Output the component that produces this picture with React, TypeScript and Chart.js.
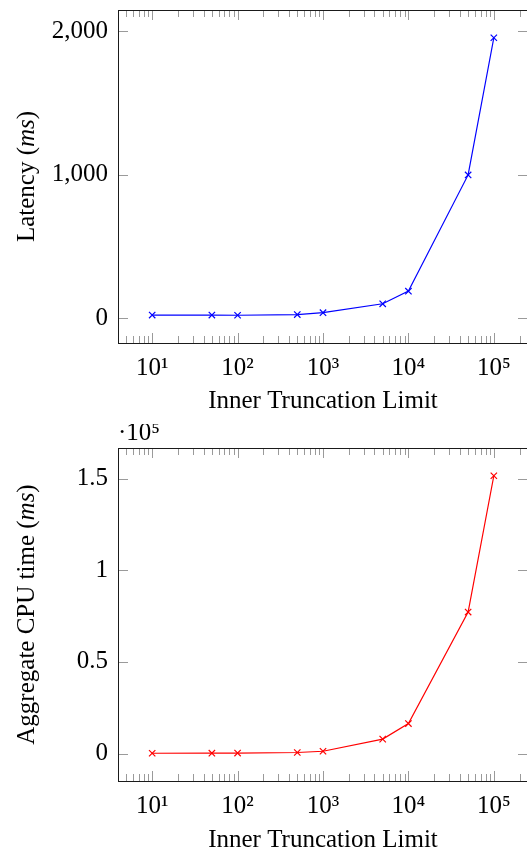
import React, { useEffect, useRef } from "react";
import { Chart, registerables } from "chart.js";

Chart.register(...registerables);

// ---- data ----
const limits = [10, 50, 100, 500, 1000, 5000, 10000, 50000, 100000];
const latencyMs = [23, 23, 22, 27, 40, 102, 190, 1000, 1956];
const cpuTimeMs = [200, 250, 300, 600, 1300, 7900, 16400, 77200, 151500];

const xTickValues = [10, 100, 1000, 10000, 100000];
const xTickLabels = ["10¹", "10²", "10³", "10⁴", "10⁵"];
const latencyTicks = [0, 1000, 2000];
const latencyTickLabels = ["0", "1,000", "2,000"];
const cpuTicks = [0, 50000, 100000, 150000];
const cpuTickLabels = ["0", "0.5", "1", "1.5"];

const xTitle = "Inner Truncation Limit";
const latencyTitle = ["Latency (", "ms", ")"];
const cpuTitle = ["Aggregate CPU time (", "ms", ")"];
const cpuScaleLabel = "·10⁵";

const FONT = '"Liberation Serif", serif';
const FONT_SIZE = 25;

function enlargeLog(vals: number[]) {
  const lo = Math.log10(Math.min(...vals));
  const hi = Math.log10(Math.max(...vals));
  const pad = 0.1 * (hi - lo);
  return { min: Math.pow(10, lo - pad), max: Math.pow(10, hi + pad) };
}
function enlargeLin(vals: number[]) {
  const lo = Math.min(...vals);
  const hi = Math.max(...vals);
  const pad = 0.1 * (hi - lo);
  return { min: lo - pad, max: hi + pad };
}

const frameTicks = {
  id: "frameTicks",
  afterDraw(chart: any) {
    const { ctx, chartArea: a, scales } = chart;
    const x = scales.x;
    const y = scales.y;
    ctx.save();
    ctx.strokeStyle = "#9a9a9a";
    ctx.lineWidth = 1;
    ctx.beginPath();
    for (let n = 0; n <= 6; n++) {
      for (let k = 1; k <= 9; k++) {
        const v = k * Math.pow(10, n);
        if (v < x.min || v > x.max) continue;
        const px = Math.round(x.getPixelForValue(v)) + 0.5;
        const len = k === 1 ? 10 : 7;
        ctx.moveTo(px, a.bottom);
        ctx.lineTo(px, a.bottom - len);
        ctx.moveTo(px, a.top);
        ctx.lineTo(px, a.top + len);
      }
    }
    for (const t of y.ticks) {
      const py = Math.round(y.getPixelForValue(t.value)) + 0.5;
      ctx.moveTo(a.left, py);
      ctx.lineTo(a.left + 10, py);
      ctx.moveTo(a.right, py);
      ctx.lineTo(a.right - 10, py);
    }
    ctx.stroke();
    ctx.strokeStyle = "#1a1a1a";
    ctx.strokeRect(
      Math.round(a.left) + 0.5,
      Math.round(a.top) + 0.5,
      Math.round(a.right - a.left),
      Math.round(a.bottom - a.top)
    );
    const opts = chart.options.plugins.frameTicks || {};
    ctx.fillStyle = "#000";
    if (opts.label) {
      ctx.font = `${FONT_SIZE}px ${FONT}`;
      ctx.textAlign = "left";
      ctx.textBaseline = "alphabetic";
      ctx.fillText(opts.label, a.left, a.top - 8);
    }
    if (opts.yTitle) {
      // rotated y-axis title with italic unit
      const parts: string[] = opts.yTitle;
      const fonts = [
        `${FONT_SIZE}px ${FONT}`,
        `italic ${FONT_SIZE}px ${FONT}`,
        `${FONT_SIZE}px ${FONT}`,
      ];
      let total = 0;
      const widths = parts.map((p, i) => {
        ctx.font = fonts[i];
        const w = ctx.measureText(p).width;
        total += w;
        return w;
      });
      ctx.translate(34, (a.top + a.bottom) / 2);
      ctx.rotate(-Math.PI / 2);
      ctx.textAlign = "left";
      ctx.textBaseline = "alphabetic";
      let cx = -total / 2;
      parts.forEach((p, i) => {
        ctx.font = fonts[i];
        ctx.fillText(p, cx, 0);
        cx += widths[i];
      });
    }
    ctx.restore();
  },
};

interface Cfg {
  values: number[];
  color: string;
  yTicks: number[];
  yLabels: string[];
  yTitle: string[];
  H: number;
  areaTop: number;
  areaBottom: number;
  xTitlePad: number;
  extraLabel?: string;
}

function makeConfig(c: Cfg): any {
  const xr = enlargeLog(limits);
  const yr = enlargeLin(c.values);
  const font = { family: FONT, size: FONT_SIZE };
  return {
    type: "line",
    data: {
      labels: limits,
      datasets: [
        {
          data: limits.map((l, i) => ({ x: l, y: c.values[i] })),
          borderColor: c.color,
          backgroundColor: c.color,
          borderWidth: 1.2,
          pointStyle: "crossRot",
          pointRadius: 4.5,
          pointBorderWidth: 1.2,
          pointBorderColor: c.color,
          tension: 0,
          fill: false,
        },
      ],
    },
    options: {
      responsive: false,
      animation: false,
      events: [],
      layout: { padding: { top: c.areaTop, left: 0, right: 12, bottom: 0 } },
      plugins: {
        legend: { display: false },
        tooltip: { enabled: false },
        frameTicks: { label: c.extraLabel, yTitle: c.yTitle },
      },
      scales: {
        x: {
          type: "logarithmic",
          min: xr.min,
          max: xr.max,
          bounds: "data",
          grid: { display: false, drawTicks: false },
          border: { display: false },
          afterBuildTicks: (s: any) => {
            s.ticks = xTickValues.map((v) => ({ value: v }));
          },
          afterFit: (s: any) => {
            s.height = c.H - c.areaBottom;
            s.paddingLeft = 0;
            s.paddingRight = 0;
          },
          ticks: {
            autoSkip: false,
            maxRotation: 0,
            padding: 10,
            color: "#000",
            font,
            callback: (_v: any, i: number) => xTickLabels[i],
          },
          title: {
            display: true,
            text: xTitle,
            color: "#000",
            font,
            padding: { top: 0, bottom: c.xTitlePad },
          },
        },
        y: {
          type: "linear",
          min: yr.min,
          max: yr.max,
          bounds: "data",
          grid: { display: false, drawTicks: false },
          border: { display: false },
          afterBuildTicks: (s: any) => {
            s.ticks = c.yTicks.map((v) => ({ value: v }));
          },
          afterFit: (s: any) => {
            s.width = 118;
            s.paddingTop = 0;
            s.paddingBottom = 0;
          },
          ticks: {
            autoSkip: false,
            padding: 10,
            color: "#000",
            font,
            callback: (_v: any, i: number) => c.yLabels[i],
          },
        },
      },
    },
    plugins: [frameTicks],
  };
}

function ChartCanvas({ cfg, top }: { cfg: Cfg; top: number }) {
  const ref = useRef<HTMLCanvasElement>(null);
  useEffect(() => {
    if (!ref.current) return;
    const chart = new Chart(ref.current, makeConfig(cfg));
    return () => chart.destroy();
  }, []);
  return (
    <canvas
      ref={ref}
      width={540}
      height={cfg.H}
      style={{ position: "absolute", left: 0, top, width: 540, height: cfg.H, display: "block" }}
    />
  );
}

export default function App() {
  return (
    <div
      style={{
        position: "absolute",
        left: 0,
        top: 0,
        width: 527,
        height: 849,
        overflow: "hidden",
        background: "#fff",
      }}
    >
      <ChartCanvas
        top={0}
        cfg={{
          values: latencyMs,
          color: "#0000ff",
          yTicks: latencyTicks,
          yLabels: latencyTickLabels,
          yTitle: latencyTitle,
          H: 424,
          areaTop: 10,
          areaBottom: 343,
          xTitlePad: 8,
        }}
      />
      <ChartCanvas
        top={424}
        cfg={{
          values: cpuTimeMs,
          color: "#ff0000",
          yTicks: cpuTicks,
          yLabels: cpuTickLabels,
          yTitle: cpuTitle,
          H: 440,
          areaTop: 24,
          areaBottom: 357,
          xTitlePad: 9,
          extraLabel: cpuScaleLabel,
        }}
      />
    </div>
  );
}
